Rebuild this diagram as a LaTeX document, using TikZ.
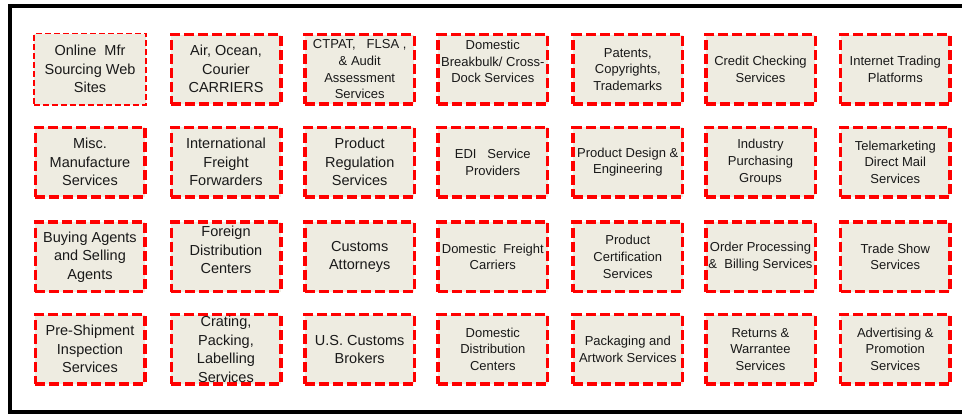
\documentclass[tikz,border=0pt]{standalone}
\usepackage{fontspec}
\setmainfont{Liberation Sans}
\definecolor{boxfill}{HTML}{EEECE1}
\definecolor{boxred}{HTML}{FF0000}

\begin{document}
\begin{tikzpicture}[x=1pt, y=-1pt,
  svc/.style={draw=boxred, fill=boxfill, line width=3.5pt, dash pattern=on 10pt off 4pt,
    minimum width=109.5pt, minimum height=69.5pt, inner sep=0pt, align=center, text=black!90},
  svcthin/.style={svc, line width=1.1pt, dash pattern=on 6pt off 3pt,
    minimum width=112pt, minimum height=71.5pt},
  big/.style={font=\fontsize{14.5}{18.5}\selectfont},
  small/.style={font=\fontsize{13}{16.7}\selectfont}]
  \useasboundingbox (0,0) rectangle (962,414);

  % Draw the outer frame (its right side runs off the page)
  \draw[line width=4pt] (10,6) rectangle (980,411.5);

  % First row
  \node[svcthin, big] (online) at (90,69.3) {Online~ Mfr\\Sourcing Web\\Sites};
  \node[svc, big] (carriers) at (226,69.3) {Air, Ocean,\\Courier\\CARRIERS};
  \node[svc, small] (ctpat) at (359.7,69.3) {CTPAT,~~ FLSA ,\\\& Audit\\Assessment\\Services};
  \node[svc, small, text depth=16pt] (breakbulk) at (492.8,69.3) {Domestic\\Breakbulk/ Cross-\\Dock Services};
  \node[svc, small] (patents) at (627.8,69.3) {Patents,\\Copyrights,\\Trademarks};
  \node[svc, small] (credit) at (760.5,69.3) {Credit Checking\\Services};
  \node[svc, small] (internet) at (895.3,69.3) {Internet Trading\\Platforms};

  % Second row
  \node[svc, big] (misc) at (90,162.2) {Misc.\\Manufacture\\Services};
  \node[svc, big] (forwarders) at (226,162.2) {International\\Freight\\Forwarders};
  \node[svc, big] (regulation) at (359.7,162.2) {Product\\Regulation\\Services};
  \node[svc, small] (edi) at (492.8,162.2) {EDI~~ Service\\Providers};
  \node[svc, small] (design) at (627.8,162.2) {Product Design \&\\Engineering};
  \node[svc, small] (purchasing) at (760.5,162.2) {Industry\\Purchasing\\Groups};
  \node[svc, small] (telemarketing) at (895.3,162.2) {Telemarketing\\Direct Mail\\Services};

  % Third row
  \node[svc, big] (agents) at (90,256.9) {Buying Agents\\and Selling\\Agents};
  \node[svc, big, text depth=14pt] (foreign) at (226,256.9) {Foreign\\Distribution\\Centers};
  \node[svc, big] (attorneys) at (359.7,256.9) {Customs\\Attorneys};
  \node[svc, small] (freight) at (492.8,256.9) {Domestic~ Freight\\Carriers};
  \node[svc, small] (certification) at (627.8,256.9) {Product\\Certification\\Services};
  \node[svc, small] (billing) at (760.5,256.9) {Order Processing\\\&~ Billing Services};
  \node[svc, small] (tradeshow) at (895.3,256.9) {Trade Show\\Services};

  % Fourth row
  \node[svc, big] (inspection) at (90,349.3) {Pre-Shipment\\Inspection\\Services};
  \node[svc, big] (crating) at (226,349.3) {Crating,\\Packing,\\Labelling\\Services};
  \node[svc, big] (brokers) at (359.7,349.3) {U.S. Customs\\Brokers};
  \node[svc, small] (distribution) at (492.8,349.3) {Domestic\\Distribution\\Centers};
  \node[svc, small] (packaging) at (627.8,349.3) {Packaging and\\Artwork Services};
  \node[svc, small] (returns) at (760.5,349.3) {Returns \&\\Warrantee\\Services};
  \node[svc, small] (advertising) at (895.3,349.3) {Advertising \&\\Promotion\\Services};
\end{tikzpicture}
\end{document}
